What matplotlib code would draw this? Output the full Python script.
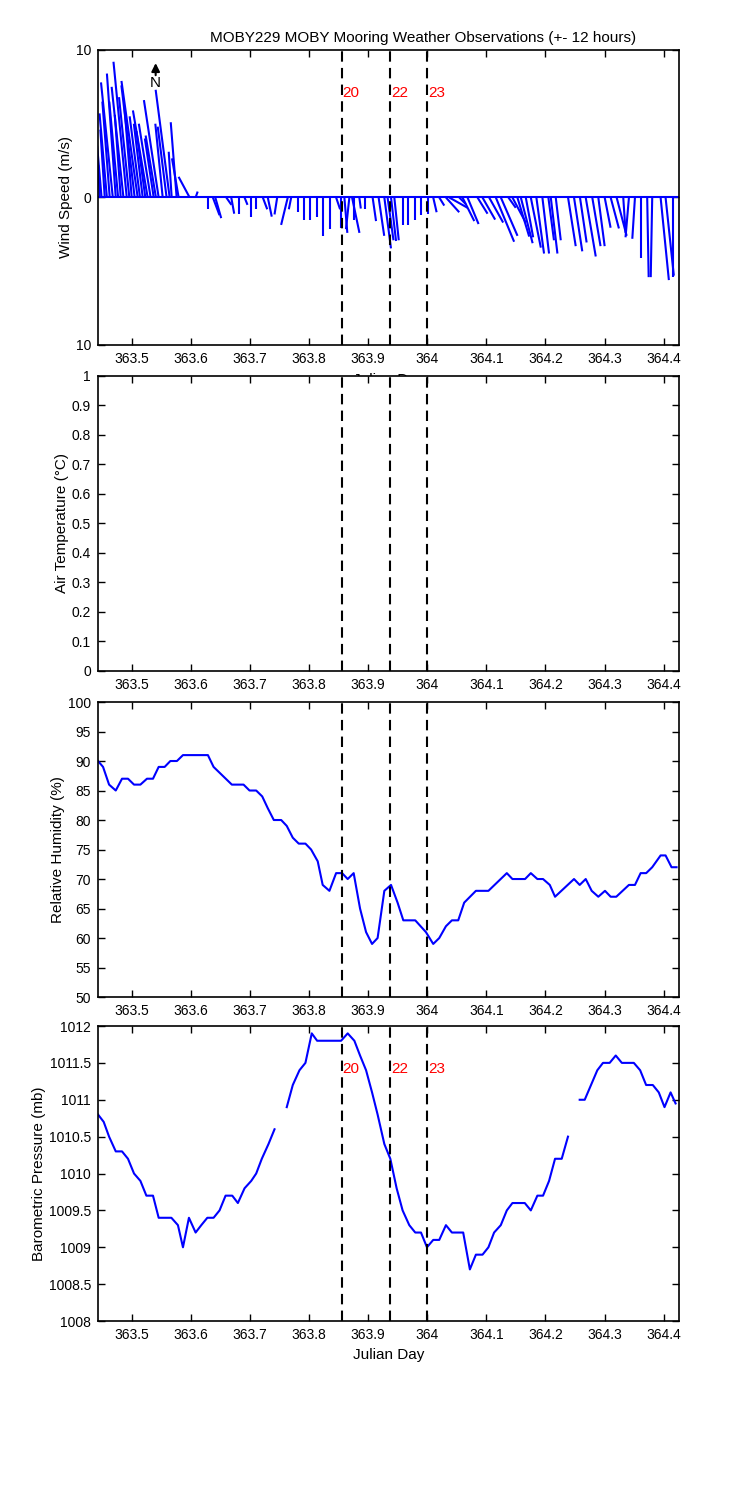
import numpy as np
import matplotlib
matplotlib.use('Agg')
import matplotlib.pyplot as plt

plt.rcParams['font.family'] = ['Liberation Sans', 'DejaVu Sans']
plt.rcParams['font.size'] = 10

title = 'MOBY229 MOBY Mooring Weather Observations (+- 12 hours)'
xlim = (363.443, 364.426)
xticks = [363.5, 363.6, 363.7, 363.8, 363.9, 364.0, 364.1, 364.2, 364.3, 364.4]
xtick_labels = ['363.5', '363.6', '363.7', '363.8', '363.9', '364', '364.1', '364.2', '364.3', '364.4']

# overpass markers
event_days = [363.855, 363.9375, 364.0]
event_labels = ['20', '22', '23']

# wind sticks: base time, u (m/s, east), v (m/s, north)
wind_t = [363.4459, 363.4490, 363.4544, 363.4580, 363.4628, 363.4680, 363.4730, 363.4770,
          363.4814, 363.4860, 363.4916, 363.4960, 363.5000, 363.5050, 363.5101, 363.5140,
          363.5186, 363.5230, 363.5270, 363.5320, 363.5372, 363.5410, 363.5456, 363.5524,
          363.5590, 363.5642, 363.5676, 363.5760, 363.5794, 363.5980, 363.6081,
          363.6289, 363.6373, 363.6414, 363.6600, 363.6684, 363.6807, 363.6909, 363.7010,
          363.7106, 363.7218, 363.7302, 363.7461, 363.7640, 363.7698, 363.7809, 363.7922,
          363.8024, 363.8137, 363.8243, 363.8356, 363.8458, 363.8542, 363.8598, 363.8682,
          363.8728, 363.8767, 363.8851, 363.8953, 363.9076, 363.9177, 363.9274, 363.9329,
          363.9387, 363.9443, 363.9583, 363.9667, 363.9797, 363.9894, 364.0005, 364.0101,
          364.0203, 364.0316, 364.0372, 364.0541, 364.0596, 364.0681, 364.0850, 364.0934,
          364.1047, 364.1160, 364.1245, 364.1373, 364.1441, 364.1525, 364.1583, 364.1667,
          364.1752, 364.1846, 364.1948, 364.2049, 364.2090, 364.2174, 364.2382, 364.2483,
          364.2584, 364.2681, 364.2792, 364.2894, 364.3002, 364.3103, 364.3204, 364.3316,
          364.3412, 364.3514, 364.3610, 364.3721, 364.3806, 364.3948, 364.4032, 364.4150]
wind_u = [-0.1, -0.3, -0.3, -0.5, -0.5, -0.8, -0.6, -0.6,
          -0.4, -0.8, -0.9, -0.7, -0.5, -0.9, -1.1, -0.7,
          -0.6, -0.6, -1.0, -0.8, -0.6, -0.7, -1.0, -0.5,
          -0.6, -0.95, -0.2, -0.4, -0.45, -0.75, 0.14,
          0.0, 0.45, 0.4, 0.35, 0.2, 0.0, 0.2, 0.0,
          0.0, 0.3, 0.27, -0.18, -0.45, -0.16, 0.0, 0.0,
          0.0, 0.0, 0.0, 0.0, 0.27, 0.0, 0.2, -0.23,
          0.5, 0.0, 0.1, 0.0, 0.23, 0.38, 0.45, 0.4,
          0.34, 0.3, 0.0, 0.0, 0.0, 0.0, 0.0, 0.23,
          0.34, 0.9, 1.24, 0.45, 0.8, 0.75, 0.68, 0.86,
          0.95, 1.24, 1.13, 0.5, 0.9, 0.8, 0.8, 0.5,
          0.68, 0.52, 0.45, 0.38, 0.45, 0.34, 0.52, 0.56,
          0.45, 0.68, 0.56, 0.43, 0.4, 0.56, 0.68, 0.16,
          -0.23, -0.18, 0.0, 0.1, -0.1, 0.56, 0.56, 0.0]
wind_v = [2.2, 3.5, 4.6, 5.7, 6.5, 7.8, 8.4, 6.5,
          5.6, 7.5, 9.2, 6.8, 6.2, 7.6, 7.9, 5.5,
          5.0, 4.5, 5.9, 5.0, 4.0, 4.2, 6.6, 5.0,
          4.8, 7.3, 3.1, 5.1, 2.65, 1.4, 0.4,
          -0.8, -1.2, -1.4, -0.5, -1.1, -1.1, -0.5, -1.3,
          -0.8, -0.8, -1.3, -1.15, -1.86, -0.8, -1.0, -1.5,
          -1.5, -1.3, -2.6, -2.15, -0.8, -2.1, -2.4, -2.15,
          -2.4, -1.5, -0.75, -0.75, -1.6, -2.6, -3.45, -2.9,
          -2.95, -2.9, -1.85, -1.85, -1.5, -1.2, -1.15, -1.0,
          -0.55, -1.0, -0.7, -0.45, -1.6, -1.8, -1.1, -1.5,
          -1.7, -3.0, -2.6, -0.7, -1.7, -2.65, -3.1, -2.7,
          -3.4, -3.8, -3.8, -2.9, -3.8, -2.9, -3.3, -3.65,
          -3.05, -4.0, -3.3, -3.3, -2.05, -2.1, -2.6, -2.4,
          -2.7, -2.8, -4.1, -5.4, -5.4, -5.6, -5.3, -5.4]

# relative humidity (%)
rh_t = [363.4430, 363.4515, 363.4617, 363.4730, 363.4836, 363.4937, 363.5039, 363.5147,
        363.5258, 363.5360, 363.5456, 363.5557, 363.5654, 363.5765, 363.5867, 363.6289,
        363.6385, 363.6694, 363.6892, 363.6993, 363.7106, 363.7208, 363.7302, 363.7404,
        363.7529, 363.7623, 363.7725, 363.7826, 363.7939, 363.8035, 363.8147, 363.8231,
        363.8345, 363.8458, 363.8559, 363.8654, 363.8755, 363.8863, 363.8965, 363.9066,
        363.9160, 363.9274, 363.9387, 363.9498, 363.9595, 363.9797, 363.9978, 364.0101,
        364.0203, 364.0316, 364.0417, 364.0524, 364.0625, 364.0823, 364.1035, 364.1346,
        364.1441, 364.1655, 364.1752, 364.1863, 364.1959, 364.2073, 364.2162, 364.2483,
        364.2579, 364.2681, 364.2782, 364.2894, 364.3007, 364.3103, 364.3198, 364.3412,
        364.3514, 364.3610, 364.3704, 364.3806, 364.3948, 364.4032, 364.4133, 364.4218]
rh = [90, 89, 86, 85, 87, 87, 86, 86,
      87, 87, 89, 89, 90, 90, 91, 91,
      89, 86, 86, 85, 85, 84, 82, 80,
      80, 79, 77, 76, 76, 75, 73, 69,
      68, 71, 71, 70, 71, 65, 61, 59,
      60, 68, 69, 66, 63, 63, 61, 59,
      60, 62, 63, 63, 66, 68, 68, 71,
      70, 70, 71, 70, 70, 69, 67, 70,
      69, 70, 68, 67, 68, 67, 67, 69,
      69, 71, 71, 72, 74, 74, 72, 72]

# barometric pressure (mb), NaN = missing
bp_t = [363.4430, 363.4526, 363.4617, 363.4730, 363.4836, 363.4937, 363.5039, 363.5147,
        363.5248, 363.5360, 363.5456, 363.5671, 363.5782, 363.5867, 363.5968, 363.6081,
        363.6177, 363.6279, 363.6385, 363.6486, 363.6588, 363.6701, 363.6796, 363.6909,
        363.7022, 363.7106, 363.7201, 363.7314, 363.7416, 363.7520,
        363.7623, 363.7725, 363.7838, 363.7939, 363.8046, 363.8137, 363.8542, 363.8654,
        363.8767, 363.8863, 363.8965, 363.9066, 363.9160, 363.9274,
        363.9375, 363.9482, 363.9583, 363.9696, 363.9797, 363.9894, 363.9995, 364.0101,
        364.0203, 364.0316, 364.0417, 364.0608, 364.0721, 364.0823, 364.0935, 364.1035,
        364.1131, 364.1244, 364.1346, 364.1441, 364.1650, 364.1752, 364.1863, 364.1959,
        364.2061, 364.2162, 364.2275, 364.2381, 364.2480,
        364.2579, 364.2664, 364.2877, 364.2973, 364.3086, 364.3189, 364.3292, 364.3495,
        364.3602, 364.3703, 364.3816, 364.3917, 364.4014, 364.4117, 364.4201]
bp = [1010.8, 1010.7, 1010.5, 1010.3, 1010.3, 1010.2, 1010.0, 1009.9,
      1009.7, 1009.7, 1009.4, 1009.4, 1009.3, 1009.0, 1009.4, 1009.2,
      1009.3, 1009.4, 1009.4, 1009.5, 1009.7, 1009.7, 1009.6, 1009.8,
      1009.9, 1010.0, 1010.2, 1010.4, 1010.6, np.nan,
      1010.9, 1011.2, 1011.4, 1011.5, 1011.9, 1011.8, 1011.8, 1011.9,
      1011.8, 1011.6, 1011.4, 1011.1, 1010.8, 1010.4,
      1010.2, 1009.8, 1009.5, 1009.3, 1009.2, 1009.2, 1009.0, 1009.1,
      1009.1, 1009.3, 1009.2, 1009.2, 1008.7, 1008.9, 1008.9, 1009.0,
      1009.2, 1009.3, 1009.5, 1009.6, 1009.6, 1009.5, 1009.7, 1009.7,
      1009.9, 1010.2, 1010.2, 1010.5, np.nan,
      1011.0, 1011.0, 1011.4, 1011.5, 1011.5, 1011.6, 1011.5, 1011.5,
      1011.4, 1011.2, 1011.2, 1011.1, 1010.9, 1011.1, 1010.95]

fig = plt.figure(figsize=(7.5, 15), dpi=100)
left, width, height = 0.1307, 0.7747, 0.1967
bottoms = [0.77, 0.5527, 0.3353, 0.1193]
axes = [fig.add_axes([left, b, width, height]) for b in bottoms]

for ax in axes:
    ax.set_xlim(*xlim)
    ax.set_xticks(xticks)
    ax.set_xticklabels(xtick_labels)
    ax.tick_params(direction='in', top=True, right=True, length=5, width=1, pad=5)
    for s in ax.spines.values():
        s.set_linewidth(1.2)

# wind stick plot
ax = axes[0]
ax.set_ylim(-10, 10)
ax.set_yticks([-10, 0, 10])
ax.set_yticklabels(['10', '0', '10'])
ax_w_in = width * 7.5
ax_h_in = height * 15
kx = (xlim[1] - xlim[0]) / ax_w_in * ax_h_in / 20.0  # days per m/s, keeps sticks isotropic
ax.axhline(0, color='b', lw=1.5)
for t, u, v in zip(wind_t, wind_u, wind_v):
    ax.plot([t, t + u * kx], [0, v], color='b', lw=1.5, solid_capstyle='butt')
ax.annotate('', xy=(363.5405, 9.3), xytext=(363.5405, 8.1),
            arrowprops=dict(arrowstyle='-|>', color='k', lw=1.5, mutation_scale=12))
ax.text(363.5405, 7.75, 'N', ha='center', va='center', fontsize=11)
ax.set_ylabel('Wind Speed (m/s)', fontsize=11, labelpad=2)
ax.set_xlabel('Julian Day', fontsize=11, labelpad=5)
ax.set_title(title, fontsize=11, x=0.56)

# air temperature (no data)
ax = axes[1]
ax.set_ylim(0, 1)
ax.set_yticks(np.arange(0, 1.01, 0.1))
ax.set_yticklabels(['0', '0.1', '0.2', '0.3', '0.4', '0.5', '0.6', '0.7', '0.8', '0.9', '1'])
ax.set_ylabel('Air Temperature (\u00b0C)', fontsize=11, labelpad=2)

# humidity
ax = axes[2]
ax.plot(rh_t, rh, color='b', lw=1.5)
ax.set_ylim(50, 100)
ax.set_yticks(range(50, 101, 5))
ax.set_ylabel('Relative Humidity (%)', fontsize=11, labelpad=2)

# pressure
ax = axes[3]
ax.plot(bp_t, bp, color='b', lw=1.5)
ax.set_ylim(1008, 1012)
ax.set_yticks(np.arange(1008, 1012.01, 0.5))
ax.set_yticklabels(['1008', '1008.5', '1009', '1009.5', '1010', '1010.5', '1011', '1011.5', '1012'])
ax.set_ylabel('Barometric Pressure (mb)', fontsize=11, labelpad=2)
ax.set_xlabel('Julian Day', fontsize=11)

for ax in axes:
    for d in event_days:
        ax.axvline(d, color='k', ls=(0, (5, 3)), lw=1.5)

for ax, ytxt in [(axes[0], 7.08), (axes[3], 1011.42)]:
    for d, lab in zip(event_days, event_labels):
        ax.text(d + 0.001, ytxt, lab, color='r', ha='left', va='center', fontsize=11)

fig.savefig('out.png', dpi=100)
